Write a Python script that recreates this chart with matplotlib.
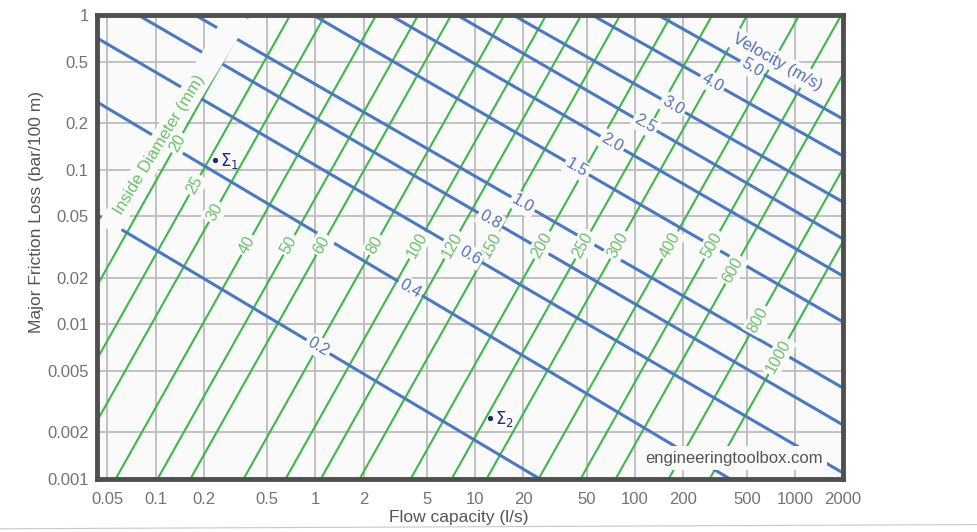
import numpy as np
import matplotlib.pyplot as plt
from matplotlib.lines import Line2D

plt.rcParams["font.family"] = ["Liberation Sans", "DejaVu Sans"]

# axis range of the nomogram
Q_LEFT, Q_RIGHT = 0.043, 2000
H_BOTTOM, H_TOP = 0.001, 1

x_ticks = [0.05, 0.1, 0.2, 0.5, 1, 2, 5, 10, 20, 50, 100, 200, 500, 1000, 2000]
x_ticklabels = ["0.05", "0.1", "0.2", "0.5", "1", "2", "5", "10", "20", "50",
                "100", "200", "500", "1000", "2000"]
y_ticks = [0.001, 0.002, 0.005, 0.01, 0.02, 0.05, 0.1, 0.2, 0.5, 1]
y_ticklabels = ["0.001", "0.002", "0.005", "0.01", "0.02", "0.05", "0.1",
                "0.2", "0.5", "1"]

# velocity lines (m/s): where each line enters and leaves the chart
velocity_labels = ["0.2", "0.4", "0.6", "0.8", "1.0", "1.5", "2.0", "2.5", "3.0", "4.0", "5.0"]
velocity_q_start = [0.043, 0.043, 0.043, 0.0777, 0.1765, 0.966, 2.931, 7.69, 17.25, 53.8, 139.4]
velocity_h_start = [0.0510, 0.274, 0.710, 1, 1, 1, 1, 1, 1, 1, 1]
velocity_q_end = [25.4, 393, 2000, 2000, 2000, 2000, 2000, 2000, 2000, 2000, 2000]
velocity_h_end = [0.001, 0.001, 0.001095, 0.002237, 0.003881, 0.01036, 0.02055,
                  0.03565, 0.0618, 0.1227, 0.2127]
velocity_label_q = [1.04, 3.91, 9.28, 12.4, 19.9, 43.4, 71.9, 115.6, 173, 303.7, 540]

# inside diameter lines (mm): flow where each line meets loss 0.001 and 1
diameters = ["20", "25", "30", "40", "50", "60", "80", "100", "120", "150",
             "200", "250", "300", "400", "500", "600", "800", "1000"]
diameter_q_bottom = [0.0090, 0.0163, 0.0269, 0.0562, 0.1028, 0.165, 0.355, 0.650,
                     1.08, 1.889, 3.94, 7.11, 11.77, 24.9, 45.6, 75.5, 162.1, 292.7]
diameter_q_top = [0.385, 0.696, 1.152, 2.403, 4.40, 7.08, 15.2, 27.8, 46.1, 80.8,
                  168.5, 304.4, 504, 1066, 1952, 3232, 6941, 12526]
diameter_label_h = [0.149, 0.0796, 0.0533, 0.0326, 0.0326, 0.0326, 0.0326, 0.0326,
                    0.0326, 0.0326, 0.0326, 0.0326, 0.0326, 0.0326, 0.0326,
                    0.0225, 0.0107, 0.0062]

# hand-written marks on the scan
mark_labels = [r"$\Sigma_1$", r"$\Sigma_2$"]
mark_q = [0.235, 12.4]
mark_h = [0.1156, 0.00248]

BLUE = "#4a78c2"
BLUE_TXT = "#5670b4"
GREEN = "#3cb84a"
GREEN_TXT = "#6cc06c"
BG = "#fafafa"
INK = "#1f2a78"

fig = plt.figure(figsize=(9.77, 5.32), dpi=100)
ax = fig.add_axes([97 / 977, 53 / 532, 746 / 977, 464 / 532])
ax.set_facecolor(BG)
ax.set_xscale("log")
ax.set_yscale("log")
ax.set_xlim(Q_LEFT, Q_RIGHT)
ax.set_ylim(H_BOTTOM, H_TOP)

ax.set_xticks(x_ticks, x_ticklabels)
ax.set_yticks(y_ticks, y_ticklabels)
ax.minorticks_off()
ax.tick_params(length=0, labelsize=12, labelcolor="#737373")
ax.tick_params(axis="x", pad=9)
ax.tick_params(axis="y", pad=6)
ax.grid(True, which="major", color="#bdbdbd", lw=1.3, zorder=0)
ax.set_axisbelow(True)
for sp in ax.spines.values():
    sp.set_color("#4f4f4f")
    sp.set_linewidth(3.5)
    sp.set_zorder(10)

ax.set_xlabel("Flow capacity (l/s)", fontsize=12.5, color="#555555")
ax.set_ylabel("Major Friction Loss (bar/100 m)", fontsize=12.5, color="#555555")
ax.xaxis.set_label_coords(0.485, -0.067)
ax.yaxis.set_label_coords(-0.071, 0.575)

lh_bot, lh_top = np.log10(H_BOTTOM), np.log10(H_TOP)
box = dict(boxstyle="square,pad=0.15", fc=BG, ec="none")

# diameter lines
for lab, qb, qt, hl in zip(diameters, diameter_q_bottom, diameter_q_top, diameter_label_h):
    ax.plot([qb, qt], [H_BOTTOM, H_TOP], color=GREEN, lw=1.5, zorder=2)
    t = (np.log10(hl) - lh_bot) / (lh_top - lh_bot)
    ql = 10 ** (np.log10(qb) + t * (np.log10(qt) - np.log10(qb)))
    ax.text(ql, hl, lab, color=GREEN_TXT, fontsize=11.5, rotation=60.7,
            rotation_mode="anchor", ha="center", va="center", bbox=box,
            zorder=7, clip_on=True)

# velocity lines
for lab, q0, h0, q1, h1, ql in zip(velocity_labels, velocity_q_start, velocity_h_start,
                                   velocity_q_end, velocity_h_end, velocity_label_q):
    ax.plot([q0, q1], [h0, h1], color=BLUE, lw=2.2, zorder=3)
    t = (np.log10(ql) - np.log10(q0)) / (np.log10(q1) - np.log10(q0))
    hlab = 10 ** (np.log10(h0) + t * (np.log10(h1) - np.log10(h0)))
    ax.text(ql, hlab, lab, color=BLUE_TXT, fontsize=11.5, rotation=-30.3,
            rotation_mode="anchor", ha="center", va="center", bbox=box,
            zorder=7, clip_on=True)

# titles of the two line families
ax.text(0.1297, 0.205, "   Inside Diameter (mm)               ", color=GREEN_TXT,
        fontsize=12, rotation=58.7, rotation_mode="anchor", ha="center", va="center",
        bbox=dict(boxstyle="square,pad=0.25", fc=BG, ec="none"), zorder=6, clip_on=True)
ax.text(774, 0.497, "Velocity (m/s)", color=BLUE_TXT, fontsize=12, rotation=-29.5,
        rotation_mode="anchor", ha="center", va="center",
        bbox=dict(boxstyle="square,pad=0.2", fc=BG, ec="none"), zorder=6, clip_on=True)

ax.text(0.973, 0.045, "engineeringtoolbox.com", transform=ax.transAxes, ha="right",
        va="center", fontsize=12, color="#555555",
        bbox=dict(boxstyle="square,pad=0.25", fc=BG, ec="none"), zorder=8)

# hand-written points
for lab, q, h in zip(mark_labels, mark_q, mark_h):
    ax.plot(q, h, "o", ms=2.8, color=INK, zorder=9)
    ax.annotate(lab, (q, h), xytext=(3.5, -1), textcoords="offset points",
                ha="left", va="center", fontsize=12, color=INK, zorder=9)

# scanned page edge
fig.add_artist(Line2D([0.0, 1.0], [0.006, 0.014], color="#c8c8c8", lw=0.8))

fig.savefig("out.png", dpi=100, facecolor="white")
